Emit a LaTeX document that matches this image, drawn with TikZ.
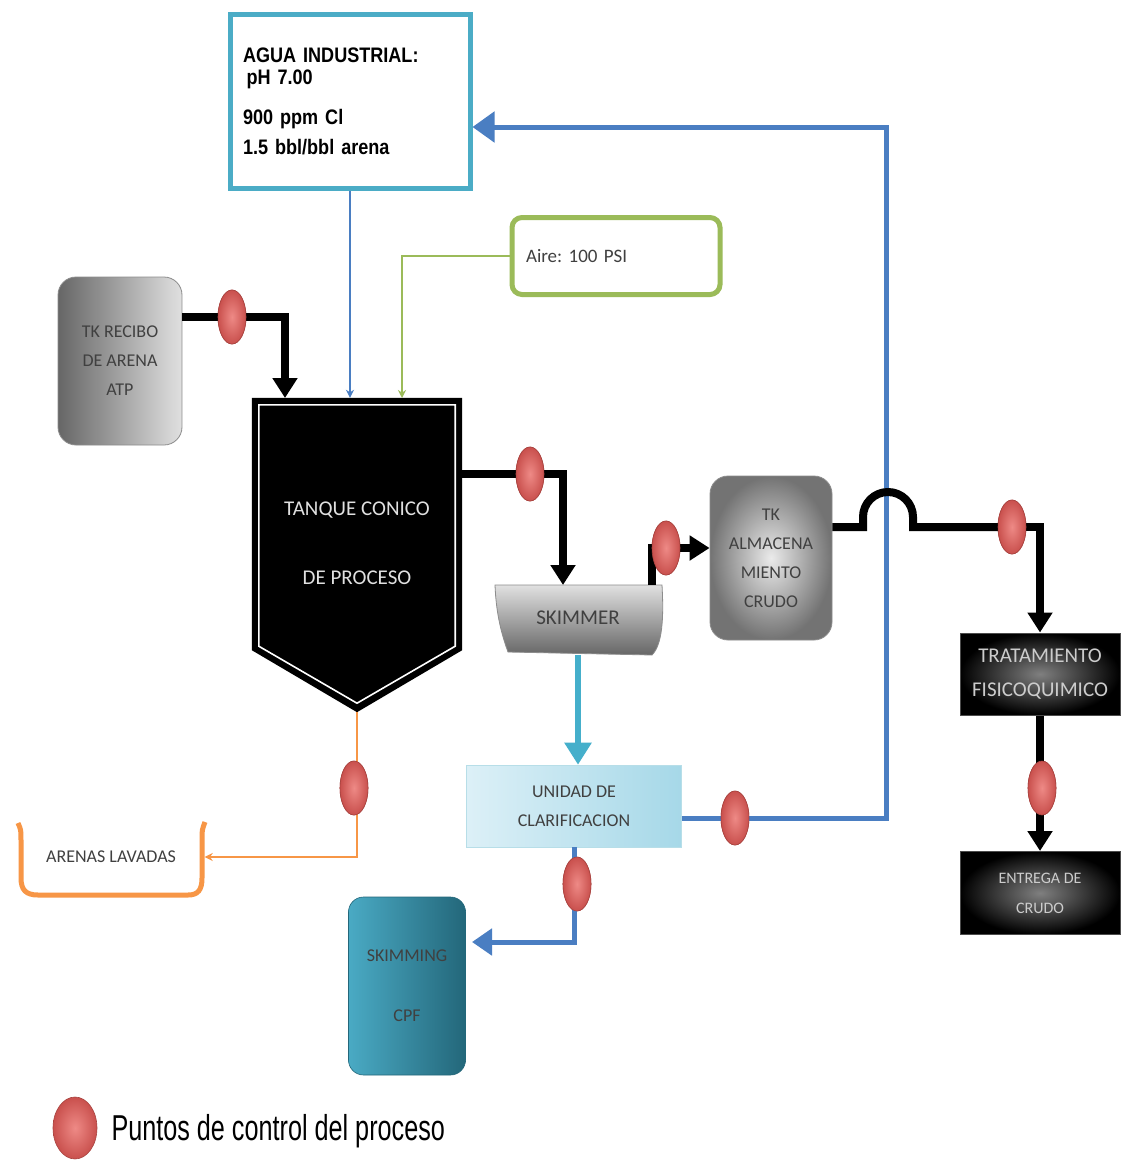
\documentclass[tikz,border=0pt]{standalone}
\usepackage{fontspec}
\setmainfont{Carlito}
\newfontfamily\narrowbold[FakeStretch=0.86,WordSpace=0.7]{Liberation Sans}
\newfontfamily\narrowreg[FakeStretch=0.7]{Liberation Sans}
\usetikzlibrary{arrows.meta,shapes.geometric,calc}
\definecolor{aguaBlue}{HTML}{4BACC6}
\definecolor{loopBlue}{HTML}{4A7EC2}
\definecolor{cyanLine}{HTML}{45AFCB}
\definecolor{airGreen}{HTML}{9BBB59}
\definecolor{sandOrange}{HTML}{F79646}
\definecolor{ctrlRed}{HTML}{C9504D}
\definecolor{ctrlLight}{HTML}{EE8A86}
\definecolor{ctrlDark}{HTML}{A84440}
\definecolor{tealDark}{HTML}{23677A}
\definecolor{tealLight}{HTML}{4AAAC4}
\definecolor{clarLeft}{HTML}{DCF0F7}
\definecolor{clarRight}{HTML}{A6D8E8}
\frenchspacing
\tikzset{
  ctrl/.style={ellipse, minimum width=28pt, minimum height=54pt, inner sep=0pt,
    inner color=ctrlLight, outer color=ctrlRed, draw=ctrlDark, line width=0.6pt},
  blk/.style={line width=8pt, black},
  blkarrow/.style={blk, -{Triangle[width=24pt,length=20pt]}},
  thinline/.style={line width=2.2pt},
  graybox/.style={rounded corners=18pt, minimum width=#1, inner sep=0pt, align=center,
    text=black!75, font=\fontsize{18}{29}\selectfont},
  blackbox/.style={minimum width=160pt, minimum height=82pt, inner sep=0pt, align=center,
    inner color=black!50, outer color=black, draw=black!70, line width=1pt,
    text=black!20, font=\fontsize{21}{34}\selectfont},
}
\begin{document}
\begin{tikzpicture}[x=1pt,y=-1pt]
\useasboundingbox (0,0) rectangle (1127,1162);
\fill[white] (0,0) rectangle (1127,1162);

% ---------- nodes ----------
\node[draw=aguaBlue, line width=5pt, fill=white, minimum width=240pt, minimum height=174pt,
  text width=214pt, inner xsep=13pt, align=left,
  font=\narrowbold\bfseries\fontsize{21}{25}\selectfont] (agua) at (350,101)
  {AGUA INDUSTRIAL:\\[-3pt] \,pH 7.00\\[15pt] 900 ppm Cl\\[5pt] 1.5 bbl/bbl arena};

\node[draw=airGreen, line width=5pt, fill=white, rounded corners=10pt,
  minimum width=208pt, minimum height=77pt, text width=180pt, inner xsep=14pt, align=left,
  text=black!75, font=\fontsize{19}{22}\selectfont] (aire) at (616,256) {Aire: 100 PSI};

\node[graybox=124pt, minimum height=168pt, left color=black!60, right color=black!12,
  draw=black!45, line width=0.8pt] (tkr) at (120,361)
  {TK RECIBO\\DE ARENA\\ATP};

% tank (conical)
\node[minimum width=210pt, minimum height=314pt, inner sep=0pt] (tank) at (357,555) {};
\fill[black] (tank.north west) -- (tank.north east) -- ($(tank.south east)+(0,-62)$)
  -- (tank.south) -- ($(tank.south west)+(0,-62)$) -- cycle;
\draw[white, line width=1.6pt] ($(tank.north west)+(7,7)$) -- ($(tank.north east)+(-7,7)$)
  -- ($(tank.south east)+(-7,-66)$) -- ($(tank.south)+(0,-9)$)
  -- ($(tank.south west)+(7,-66)$) -- cycle;
\node[text=black!12, font=\fontsize{21}{69}\selectfont, align=center] (tanktxt) at (357,543)
  {TANQUE CONICO\\DE PROCESO};

% skimmer
\node[minimum width=167pt, minimum height=70pt, inner sep=0pt] (skimmer) at (578,620) {};
\shade[top color=black!12, bottom color=black!60, draw=black!45, line width=0.8pt]
  (495,585) -- (662,585) .. controls (664,620) and (662,645) .. (652,655)
  -- (508,652) .. controls (500,630) and (496,610) .. (495,585) -- cycle;
\node[text=black!75, font=\fontsize{21}{24}\selectfont] (skimtxt) at (578,618) {SKIMMER};

\node[graybox=122pt, minimum height=164pt, inner color=black!8, outer color=black!55,
  draw=black!45, line width=0.8pt] (tka) at (771,558)
  {TK\\ALMACENA\\MIENTO\\CRUDO};

\node[blackbox] (trat) at (1040,674) {TRATAMIENTO\\FISICOQUIMICO};
\node[blackbox, minimum height=83pt, font=\fontsize{16}{30}\selectfont] (entrega) at (1040,893) {ENTREGA DE\\CRUDO};

\node[minimum width=215pt, minimum height=82pt, inner sep=0pt, align=center,
  left color=clarLeft, right color=clarRight, draw=aguaBlue!40, line width=0.6pt,
  text=black!75, font=\fontsize{18}{29}\selectfont] (unidad) at (574,806)
  {UNIDAD DE\\CLARIFICACION};

\node[rounded corners=15pt, minimum width=117pt, minimum height=178pt, inner sep=0pt,
  align=center, left color=tealLight, right color=tealDark, draw=tealDark, line width=0.6pt,
  text=black!75, font=\fontsize{18}{60}\selectfont] (skimming) at (407,986)
  {SKIMMING\\CPF};

% arenas lavadas (open tray)
\node[minimum width=187pt, minimum height=72pt, inner sep=0pt, text=black!75,
  font=\fontsize{18}{20}\selectfont] (arenas) at (111,857) {ARENAS LAVADAS};
\draw[sandOrange, line width=5pt]
  (18,823) .. controls (21,830) .. (21,840) -- (21,878) .. controls (21,890) and (26,895) .. (38,895)
  -- (188,895) .. controls (198,895) and (202,890) .. (202,878) -- (202,840) .. controls (202,830) .. (205,822);

% ---------- coordinates for free ends ----------
\coordinate (tin1) at (285,398);
\coordinate (tin3) at (402,398);
\coordinate (skin) at (563,585);
\coordinate (skout) at (652,585);
\coordinate (lp) at (886,127);
\coordinate (smin) at (472,942);
\coordinate (hopL) at (863,527);
\coordinate (hopR) at (913,527);

% control points (positions)
\node[ctrl] (c1) at (232,317) {};
\node[ctrl] (c2) at (530,474) {};
\node[ctrl] (c3) at (666,548) {};
\node[ctrl] (c4) at (1012,527) {};
\node[ctrl] (c5) at (1042,788) {};
\node[ctrl] (c6) at (735,818) {};
\node[ctrl] (c7) at (577,884) {};
\node[ctrl] (c8) at (354,788) {};

% ---------- connectors ----------
\draw[thinline, loopBlue, -{Stealth[width=8pt,length=8pt]}] (agua.south) -- (agua.south |- tank.north);
\draw[thinline, airGreen, -{Stealth[width=8pt,length=8pt]}] (aire.west) -| (tin3);
\draw[blkarrow] (tkr.east |- c1) -| (tin1);
\draw[blkarrow] (tank.east |- c2) -| (skin);
\draw[blkarrow] (skout) |- (tka.west |- c3);
\draw[line width=5pt, loopBlue, -{Triangle[width=30pt,length=22pt]}] (unidad.east |- c6) -| (lp) -- (agua.east |- lp);
\draw[blk] (tka.east |- c4) -- (hopL) -- ++(0,-10) arc[start angle=180, end angle=0, radius=25pt] -- (hopR) -- (c4.center);
\draw[blkarrow] (c4.center) -| (trat.north);
\draw[blkarrow] (trat.south) -- (entrega.north);
\draw[line width=6pt, cyanLine, -{Triangle[width=26pt,length=22pt]}] (skimmer.south) -- (skimmer.south |- unidad.north);
\draw[line width=5pt, loopBlue, -{Triangle[width=26pt,length=20pt]}] (unidad.south) |- (smin);
\draw[thinline, sandOrange, -{Stealth[width=8pt,length=8pt]}] (tank.south) |- (arenas.east);

% redraw control points on top
\foreach \c in {c1,c2,c3,c4,c5,c6,c7,c8}
  \node[ctrl] at (\c) {};

% legend
\node[ctrl, minimum width=44pt, minimum height=62pt] (legdot) at (75,1128) {};
\node[anchor=west, font=\narrowreg\fontsize{36}{40}\selectfont] (legtxt) at (108,1131)
  {Puntos de control del proceso};
\end{tikzpicture}
\end{document}
